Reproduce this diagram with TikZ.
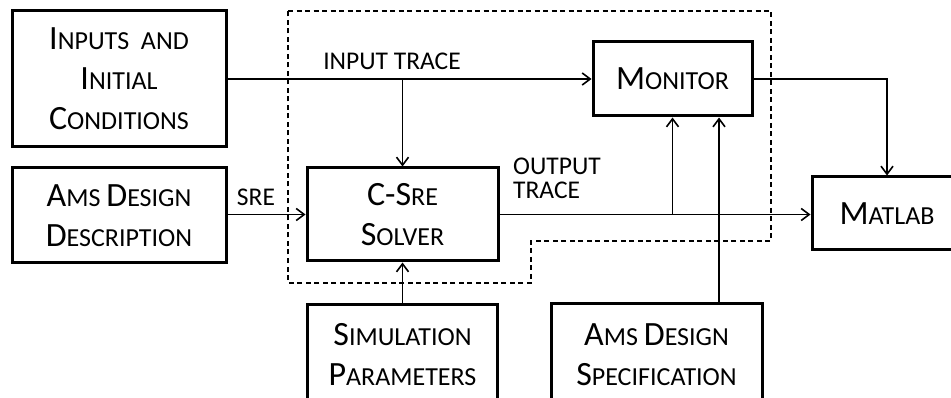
\documentclass[tikz,border=0pt]{standalone}
\usepackage{fontspec}
\setmainfont{Carlito}
\usetikzlibrary{arrows.meta}
\newcommand\Bg[1]{{\fontsize{34}{40}\selectfont #1}}
\tikzset{
  blk/.style={draw, line width=3pt, inner sep=0pt, align=center,
    font=\fontsize{26}{40}\selectfont},
  lbl/.style={inner sep=0pt, font=\fontsize{25.5}{24}\selectfont},
  conn/.style={line width=1.8pt, -{Straight Barb[length=8pt,width=12pt,line width=1.6pt]}},
  dbox/.style={line width=1.6pt, dash pattern=on 5pt off 3.5pt}
}
\begin{document}
\begin{tikzpicture}[x=1pt,y=-1pt]
\useasboundingbox (0,0) rectangle (951,398);
\clip (0,0) rectangle (951,398);
\draw[dbox] (288,11) -- (771,11) -- (771,241) -- (531,241) -- (531,283) -- (288,283) -- cycle;
\node[blk, minimum width=214pt, minimum height=136pt] (inp) at (119,79)
  {\Bg{I}NPUTS\ \ AND\\\Bg{I}NITIAL\\\Bg{C}ONDITIONS};
\node[blk, minimum width=214pt, minimum height=95pt] (desc) at (119,215.5)
  {\Bg{A}MS \Bg{D}ESIGN\\\Bg{D}ESCRIPTION};
\node[blk, minimum width=191pt, minimum height=93pt] (csre) at (402.5,214.5)
  {\Bg{C-S}RE\\\Bg{S}OLVER};
\node[blk, minimum width=159pt, minimum height=74pt] (mon) at (672.5,79)
  {\Bg{M}ONITOR};
\node[blk, minimum width=150pt, minimum height=73pt] (mat) at (887,213.5)
  {\Bg{M}ATLAB};
\node[blk, minimum width=190pt, minimum height=100pt] (sim) at (402.5,355)
  {\Bg{S}IMULATION\\\Bg{P}ARAMETERS};
\node[blk, minimum width=211pt, minimum height=102pt] (spec) at (656.5,355)
  {\Bg{A}MS \Bg{D}ESIGN\\\Bg{S}PECIFICATION};
\node[lbl, anchor=south] (lin) at (392,70) {INPUT TRACE};
\node[lbl, anchor=south] (lsre) at (256,206) {SRE};
\node[lbl, anchor=south west, align=left] (lout) at (513,199) {OUTPUT\\TRACE};
\coordinate (bx) at (csre.north |- inp.east);
\coordinate (ox) at (mon.south |- csre.east);
\coordinate (sx) at (719,0);
\draw[conn] (inp.east) -- (mon.west);
\draw[conn] (bx) -- (csre.north);
\draw[conn] (desc.east |- csre.west) -- (csre.west);
\draw[conn] (csre.east) -- (mat.west |- csre.east);
\draw[conn] (ox) -- (mon.south);
\draw[conn] (spec.north -| sx) -- (mon.south -| sx);
\draw[conn] (sim.north) -- (csre.south);
\draw[conn] (mon.east) -| (mat.north);
\end{tikzpicture}
\end{document}
